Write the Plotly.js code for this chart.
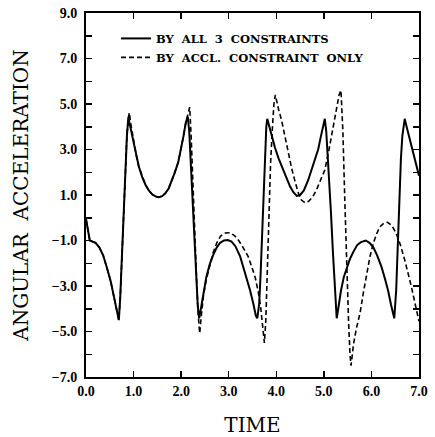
<!DOCTYPE html>
<html>
<head>
<meta charset="utf-8">
<script src="https://cdn.plot.ly/plotly-3.0.1.min.js"></script>
<style>html,body{margin:0;padding:0;background:#fff;}#chart{width:435px;height:437px;}</style>
</head>
<body>
<div id="chart"></div>
<script>
// Series 1: by all 3 constraints
const timeAll = [0.00,0.04,0.08,0.14,0.20,0.28,0.36,0.44,0.52,0.58,0.63,0.67,0.69,0.72,0.76,0.80,0.83,0.86,0.89,0.92,0.96,1.01,1.06,1.11,1.18,1.25,1.32,1.39,1.46,1.53,1.60,1.67,1.74,1.80,1.86,1.94,2.00,2.05,2.10,2.14,2.17,2.21,2.25,2.29,2.32,2.35,2.38,2.42,2.47,2.53,2.60,2.67,2.75,2.82,2.90,2.98,3.06,3.14,3.24,3.34,3.45,3.52,3.57,3.60,3.64,3.67,3.70,3.73,3.76,3.79,3.81,3.85,3.90,3.97,4.05,4.15,4.22,4.29,4.36,4.43,4.50,4.58,4.67,4.75,4.82,4.88,4.94,4.99,5.02,5.05,5.09,5.12,5.15,5.19,5.23,5.27,5.31,5.36,5.42,5.48,5.55,5.62,5.70,5.78,5.88,5.96,6.04,6.12,6.21,6.28,6.35,6.41,6.45,6.48,6.52,6.56,6.59,6.62,6.65,6.68,6.70,6.74,6.79,6.84,6.90,6.95,7.00];
const accAll = [-0.05,-0.55,-1.00,-1.05,-1.10,-1.30,-1.65,-2.20,-2.80,-3.40,-3.95,-4.40,-4.50,-3.50,-1.40,0.80,2.30,3.60,4.40,4.10,3.70,3.25,2.70,2.25,1.80,1.45,1.20,1.03,0.94,0.90,0.95,1.08,1.30,1.60,1.95,2.45,3.00,3.60,4.20,4.45,3.80,2.00,0.50,-1.30,-2.90,-3.90,-4.42,-3.90,-3.20,-2.60,-2.05,-1.65,-1.30,-1.10,-1.00,-0.98,-1.05,-1.25,-1.70,-2.40,-3.20,-3.80,-4.30,-4.42,-3.80,-2.50,-0.80,1.00,2.80,4.00,4.35,4.05,3.60,3.10,2.60,2.05,1.70,1.37,1.12,0.96,1.00,1.20,1.65,2.15,2.60,3.00,3.60,4.10,4.35,3.80,2.50,1.30,0.20,-1.50,-3.20,-4.42,-3.90,-3.20,-2.60,-2.20,-1.80,-1.50,-1.20,-1.07,-1.00,-1.10,-1.30,-1.65,-2.15,-2.65,-3.20,-3.80,-4.25,-4.42,-3.20,-0.60,1.20,2.60,3.60,4.20,4.35,4.00,3.60,3.20,2.70,2.25,1.85];

// Series 2: by acceleration constraint only
const timeAccl = [0.00,0.04,0.08,0.14,0.20,0.28,0.36,0.44,0.52,0.58,0.63,0.67,0.69,0.72,0.76,0.80,0.83,0.86,0.89,0.91,0.94,0.98,1.01,1.06,1.11,1.18,1.25,1.32,1.39,1.46,1.53,1.60,1.67,1.74,1.80,1.86,1.94,2.00,2.05,2.10,2.15,2.18,2.21,2.25,2.29,2.33,2.36,2.39,2.42,2.47,2.53,2.60,2.67,2.75,2.83,2.93,3.03,3.12,3.21,3.30,3.41,3.50,3.56,3.62,3.67,3.71,3.75,3.78,3.81,3.84,3.88,3.92,3.95,3.98,4.01,4.05,4.11,4.18,4.25,4.32,4.40,4.47,4.53,4.60,4.68,4.76,4.84,4.93,5.02,5.10,5.16,5.22,5.28,5.32,5.36,5.40,5.44,5.48,5.52,5.55,5.57,5.60,5.62,5.68,5.76,5.83,5.90,5.97,6.04,6.11,6.18,6.26,6.34,6.43,6.52,6.61,6.70,6.77,6.84,6.91,6.98,7.00];
const accAccl = [-0.05,-0.55,-1.00,-1.05,-1.10,-1.30,-1.65,-2.20,-2.80,-3.40,-3.95,-4.40,-4.50,-3.50,-1.40,0.80,2.30,3.60,4.40,4.62,4.15,3.65,3.25,2.70,2.25,1.80,1.45,1.20,1.03,0.94,0.90,0.95,1.08,1.30,1.60,1.95,2.45,3.00,3.60,4.20,4.60,4.86,3.60,1.20,-1.00,-3.00,-4.30,-5.08,-4.40,-3.40,-2.70,-2.05,-1.55,-1.10,-0.80,-0.67,-0.66,-0.78,-1.00,-1.30,-1.71,-2.25,-2.65,-3.25,-3.90,-4.70,-5.50,-4.50,-2.20,0.20,2.40,4.00,5.00,5.40,5.10,4.75,4.30,3.55,2.83,2.20,1.55,1.05,0.78,0.66,0.72,0.90,1.20,1.65,2.10,2.90,3.60,4.20,4.90,5.40,5.60,3.80,0.80,-2.20,-4.60,-6.00,-6.50,-6.00,-5.60,-4.90,-4.20,-3.30,-2.44,-1.70,-1.12,-0.70,-0.39,-0.24,-0.20,-0.35,-0.68,-1.20,-1.86,-2.40,-3.03,-3.70,-4.40,-4.55];

const seriesNames = ['BY  ALL  3  CONSTRAINTS', 'BY  ACCL.  CONSTRAINT  ONLY'];
const xTitle = 'TIME';
const yTitle = 'ANGULAR  ACCELERATION';

const traces = [
  {x: timeAll, y: accAll, mode: 'lines', name: seriesNames[0],
   line: {color: '#000', width: 2}},
  {x: timeAccl, y: accAccl, mode: 'lines', name: seriesNames[1],
   line: {color: '#000', width: 1.6, dash: '5px,3px'}}
];

const tickFont = {family: 'Liberation Serif', size: 14, color: '#000', weight: 'bold'};
const titleFont = {family: 'DejaVu Serif', size: 20, color: '#000'};

const layout = {
  width: 435, height: 437,
  margin: {l: 86, r: 16, t: 13, b: 60},
  paper_bgcolor: '#fff', plot_bgcolor: '#fff',
  showlegend: true,
  legend: {x: 0.09, y: 0.97, xanchor: 'left', yanchor: 'top', bgcolor: 'rgba(0,0,0,0)',
           font: {family: 'DejaVu Serif', size: 11.5, color: '#000', weight: 'bold'}},
  xaxis: {range: [0, 7], tick0: 0, dtick: 1, tickformat: '.1f',
          showgrid: false, zeroline: false, showline: true, linecolor: '#000', linewidth: 2,
          mirror: 'ticks', ticks: 'inside', ticklen: 6, tickwidth: 1.5, tickcolor: '#000',
          tickfont: tickFont, automargin: false,
          title: {text: xTitle, font: titleFont, standoff: 21}},
  yaxis: {range: [-7, 9], tick0: -7, dtick: 2, tickformat: '.1f',
          showgrid: false, zeroline: false, showline: true, linecolor: '#000', linewidth: 2,
          mirror: 'ticks', ticks: 'inside', ticklen: 6, tickwidth: 1.5, tickcolor: '#000',
          minor: {dtick: 1, ticks: 'inside', ticklen: 6, tickwidth: 1.5, tickcolor: '#000', showgrid: false},
          tickfont: tickFont, automargin: false, ticklabelstandoff: 4,
          title: {text: yTitle, font: titleFont, standoff: 18}}
};

Plotly.newPlot('chart', traces, layout, {displayModeBar: false, staticPlot: true});
</script>
</body>
</html>
